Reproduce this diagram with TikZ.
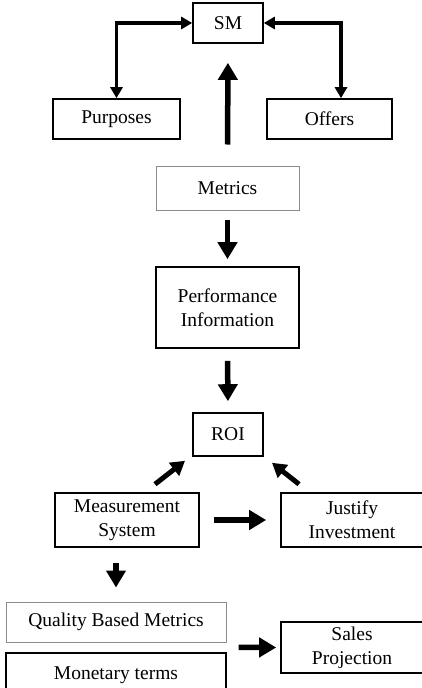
\documentclass[tikz,border=0pt]{standalone}
\usepackage{fontspec}
\setmainfont{Liberation Serif}
\usepackage{tikz}
\usetikzlibrary{arrows.meta}
\usetikzlibrary{calc}

\tikzset{
    box/.style={draw, line width=1.6pt, inner sep=0pt, align=center,
        font=\fontsize{19.5}{24}\selectfont},
    lightbox/.style={box, draw=black!45, line width=1pt},
    bigarrow/.style={line width=5.5pt, -{Triangle[length=17pt,width=19pt]}},
    smallarrow/.style={line width=5pt, -{Triangle[length=14pt,width=16pt]}},
    link/.style={line width=3.5pt, {Triangle[length=11pt,width=12pt]}-{Triangle[length=11pt,width=12pt]}}
}

\begin{document}
\begin{tikzpicture}[x=1pt, y=-1pt]
    \useasboundingbox (0,0) rectangle (421,688);

    % Top part
    \node[box, minimum width=70, minimum height=40] (sm) at (228,23) {SM};
    \node[box, minimum width=127, minimum height=40] (purp) at (116.5,119) {Purposes};
    \node[box, minimum width=125, minimum height=40] (offers) at (329.5,119) {Offers};
    \node[lightbox, minimum width=143, minimum height=44] (metrics) at (227.5,188) {Metrics};

    % Middle part
    \node[box, minimum width=143, minimum height=81] (perf) at (227.5,307.5) {Performance\\Information};
    \node[box, minimum width=70, minimum height=43] (roi) at (228,434.5) {ROI};
    \node[box, minimum width=144, minimum height=54] (meas) at (127,520) {Measurement\\System};
    \node[box, minimum width=142, minimum height=54] (justify) at (352,520) {Justify\\Investment};

    % Bottom part
    \node[lightbox, minimum width=220, minimum height=40] (qual) at (116,622) {Quality Based Metrics};
    \node[box, minimum width=220, minimum height=44] (money) at (116,675) {Monetary terms};
    \node[box, minimum width=142, minimum height=51] (sales) at (352,647.5) {Sales\\Projection};
    \coordinate (qm) at ($(qual.south east)!0.5!(money.north east)$);

    % Links to SM
    \draw[link] (purp.north) |- (sm.west);
    \draw[link] ([xshift=11.5]offers.north) |- (sm.east);
    \draw[bigarrow, shorten <=21pt, shorten >=19pt] (metrics.north) -- (sm.south);

    % Main chain
    \draw[bigarrow, shorten <=9pt, shorten >=7pt] (metrics.south) -- (perf.north);
    \draw[bigarrow, shorten <=12pt, shorten >=11pt] (perf.south) -- (roi.north);

    % Around ROI
    \draw[smallarrow] ([shift={(28,-8)}]meas.north) -- ([shift={(-43,4)}]roi.south);
    \draw[smallarrow] ([shift={(-53,-8)}]justify.north) -- ([shift={(44,6)}]roi.south);
    \draw[bigarrow, shorten <=14pt, shorten >=14pt] (meas.east) -- (justify.west);
    \draw[bigarrow, shorten <=15pt, shorten >=14pt] ([xshift=-11]meas.south) -- (qual.north);

    % Sales
    \draw[bigarrow, shorten <=12pt, shorten >=4pt] (qm) -- (sales.west);
\end{tikzpicture}
\end{document}
